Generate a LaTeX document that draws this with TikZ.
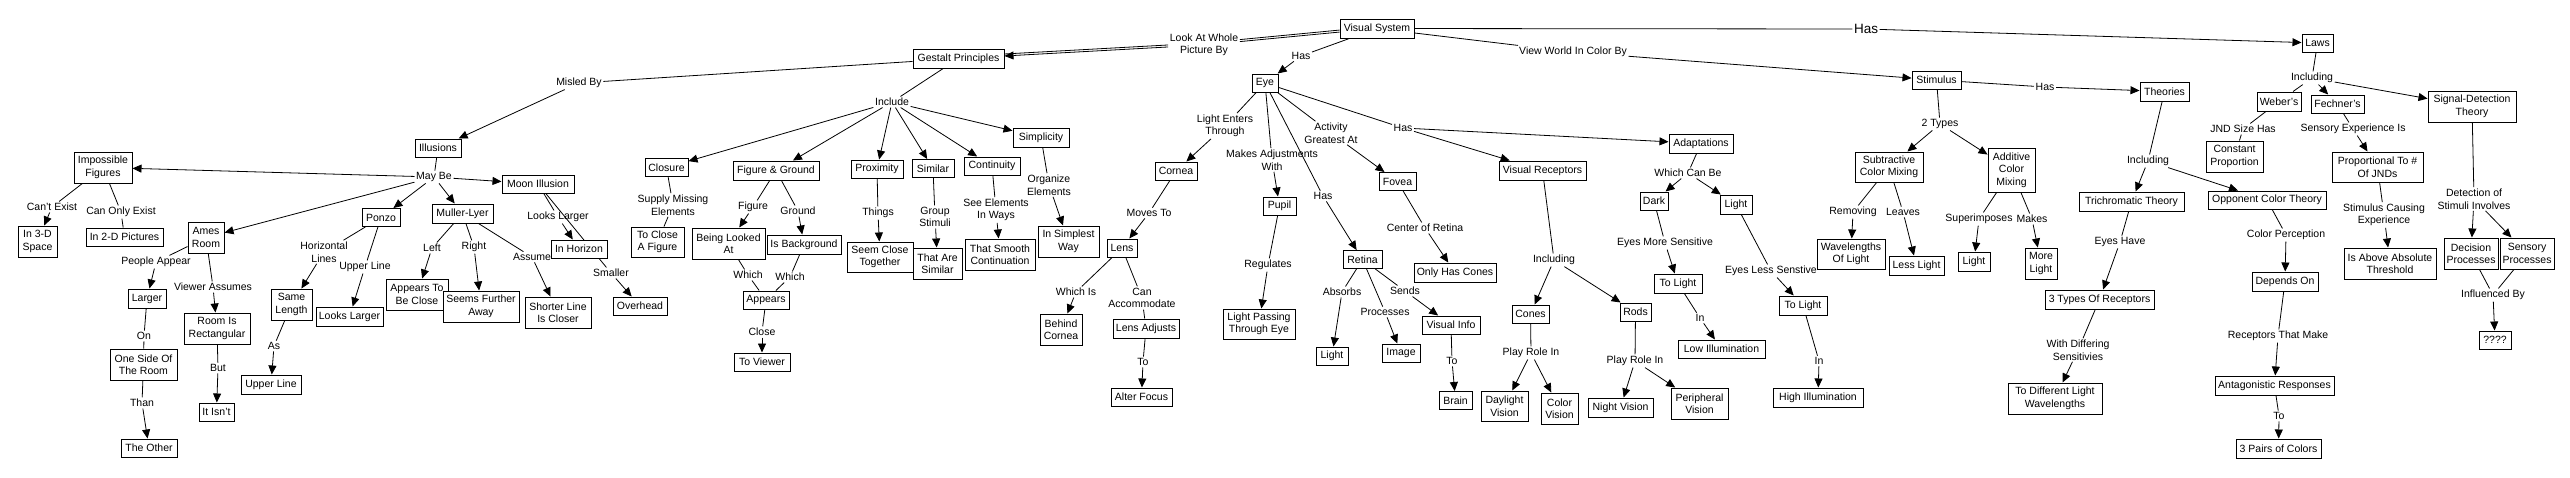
\documentclass[tikz,border=0pt]{standalone}
\usepackage{fontspec}
\setmainfont{Liberation Sans}
\usetikzlibrary{arrows.meta,backgrounds}
\newcommand\fnt{\fontsize{10.5}{12.5}\selectfont}
\newcommand\mybox[6]{\node[bx,minimum width=#4pt,minimum height=#5pt] (#1) at (#2,#3) {#6};}
\newcommand\mylab[4]{\node[lb] (#1) at (#2,#3) {#4};}
\tikzset{
  bx/.style={draw, line width=1pt, fill=white, inner sep=0pt, align=center, font=\fnt},
  lb/.style={inner sep=1.5pt, align=center, font=\fnt},
  ln/.style={line width=0.8pt},
  ar/.style={-{Triangle[length=9pt,width=8pt]}}
}
\begin{document}
\begin{tikzpicture}[x=1pt,y=-1pt]
\useasboundingbox (0,0) rectangle (2570,477);
% ---------- boxes ----------
\mybox{VS}{1377}{28.5}{74}{19}{Visual System}
\mybox{GP}{958.5}{58.5}{91}{19}{Gestalt Principles}
\mybox{Illus}{438}{148}{46}{18}{Illusions}
\mybox{ImpFig}{103}{167.5}{58}{31}{Impossible\\Figures}
\mybox{ThreeD}{37.5}{241.5}{39}{31}{In 3-D\\Space}
\mybox{TwoD}{124.5}{237}{77}{18}{In 2-D Pictures}
\mybox{Ames}{206}{237.5}{36}{31}{Ames\\Room}
\mybox{Larger}{147}{298.5}{38}{19}{Larger}
\mybox{OneSide}{143.5}{364.5}{67}{31}{One Side Of\\The Room}
\mybox{Other}{149}{448}{56}{18}{The Other}
\mybox{RoomRect}{217}{328.5}{66}{31}{Room Is\\Rectangular}
\mybox{Isnt}{216.5}{412}{35}{18}{It Isn't}
\mybox{SameLen}{291.5}{304.5}{41}{31}{Same\\Length}
\mybox{UpperLine}{271}{384.5}{60}{19}{Upper Line}
\mybox{LooksLarger}{349.5}{316.5}{67}{19}{Looks Larger}
\mybox{Moon}{538}{184}{72}{18}{Moon Illusion}
\mybox{Ponzo}{381}{217.5}{38}{18}{Ponzo}
\mybox{Muller}{462.5}{213.5}{61}{19}{Muller-Lyer}
\mybox{AppClose}{417}{294.5}{62}{31}{Appears To\\Be Close}
\mybox{Further}{481}{306.5}{76}{31}{Seems Further\\Away}
\mybox{Shorter}{558}{312.5}{66}{31}{Shorter Line\\Is Closer}
\mybox{Horizon}{579}{249}{56}{18}{In Horizon}
\mybox{Overhead}{640}{306}{54}{18}{Overhead}
\mybox{Closure}{666.5}{167.5}{43}{18}{Closure}
\mybox{ToClose}{657.5}{242}{53}{30}{To Close\\A Figure}
\mybox{FG}{776}{170.5}{86}{19}{Figure \& Ground}
\mybox{BeingLooked}{728.5}{243.5}{73}{31}{Being Looked\\At}
\mybox{IsBg}{804}{244.5}{74}{19}{Is Background}
\mybox{Appears}{766}{300}{46}{18}{Appears}
\mybox{ToViewer}{762}{362}{56}{18}{To Viewer}
\mybox{Prox}{877}{169}{52}{18}{Proximity}
\mybox{SeemClose}{880}{257}{66}{30}{Seem Close\\Together}
\mybox{Similar}{933}{168.5}{42}{18}{Similar}
\mybox{ThatSim}{937.5}{263.5}{49}{31}{That Are\\Similar}
\mybox{Cont}{992}{166}{56}{18}{Continuity}
\mybox{Smooth}{1000}{254.5}{70}{31}{That Smooth\\Continuation}
\mybox{Simp}{1041}{137.5}{56}{19}{Simplicity}
\mybox{Simplest}{1068.5}{241.5}{61}{31}{In Simplest\\Way}
\mybox{Eye}{1265}{83}{26}{18}{Eye}
\mybox{Cornea}{1176}{171}{42}{18}{Cornea}
\mybox{Lens}{1122}{248}{30}{18}{Lens}
\mybox{Behind}{1061}{329.5}{42}{31}{Behind\\Cornea}
\mybox{LensAdj}{1146}{328.5}{66}{19}{Lens Adjusts}
\mybox{Alter}{1141.5}{397}{61}{18}{Alter Focus}
\mybox{Pupil}{1279.5}{206}{33}{18}{Pupil}
\mybox{LightPass}{1259}{324}{72}{30}{Light Passing\\Through Eye}
\mybox{Fovea}{1397.5}{181.5}{37}{18}{Fovea}
\mybox{OnlyCones}{1455}{272.5}{82}{19}{Only Has Cones}
\mybox{Retina}{1362.5}{259.5}{39}{18}{Retina}
\mybox{LightR}{1332}{356}{32}{18}{Light}
\mybox{Image}{1401}{353}{38}{18}{Image}
\mybox{VisInfo}{1451}{325}{58}{18}{Visual Info}
\mybox{Brain}{1455.5}{400.5}{33}{18}{Brain}
\mybox{VisRec}{1542.5}{170.5}{87}{19}{Visual Receptors}
\mybox{Cones}{1530.5}{314}{37}{18}{Cones}
\mybox{Daylight}{1504.5}{406}{47}{30}{Daylight\\Vision}
\mybox{ColorV}{1559.5}{408.5}{37}{31}{Color\\Vision}
\mybox{Rods}{1635.5}{312}{31}{18}{Rods}
\mybox{Night}{1620.5}{407.5}{65}{19}{Night Vision}
\mybox{Peripheral}{1699.5}{403.5}{57}{31}{Peripheral\\Vision}
\mybox{Adapt}{1701}{143.5}{64}{19}{Adaptations}
\mybox{Dark}{1654}{201}{28}{18}{Dark}
\mybox{LightAd}{1736}{204.5}{32}{19}{Light}
\mybox{ToLightA}{1678}{283.5}{48}{19}{To Light}
\mybox{Low}{1721.5}{349}{87}{18}{Low Illumination}
\mybox{ToLightB}{1803}{305.5}{48}{19}{To Light}
\mybox{High}{1818}{397.5}{90}{19}{High Illumination}
\mybox{Stim}{1936.5}{80}{49}{18}{Stimulus}
\mybox{Subtr}{1889}{167}{68}{30}{Subtractive\\Color Mixing}
\mybox{Wavel}{1851}{254}{68}{30}{Wavelengths\\Of Light}
\mybox{LessLight}{1916.5}{265.5}{55}{19}{Less Light}
\mybox{Additive}{2011.5}{170}{47}{44}{Additive\\Color\\Mixing}
\mybox{LightA}{1974}{261.5}{32}{19}{Light}
\mybox{MoreLight}{2041}{263.5}{32}{31}{More\\Light}
\mybox{Theories}{2164.5}{91.5}{49}{19}{Theories}
\mybox{Trich}{2131.5}{201.5}{105}{19}{Trichromatic Theory}
\mybox{ThreeTypes}{2099.5}{299.5}{109}{19}{3 Types Of Receptors}
\mybox{ToDiff}{2055}{398.5}{94}{31}{To Different Light\\Wavelengths}
\mybox{Laws}{2317.5}{43}{31}{18}{Laws}
\mybox{Webers}{2279}{101.5}{44}{19}{Weber's}
\mybox{Fechners}{2337.5}{104}{53}{18}{Fechner's}
\mybox{Constant}{2234.5}{156.5}{57}{31}{Constant\\Proportion}
\mybox{Opponent}{2267}{200}{118}{18}{Opponent Color Theory}
\mybox{Depends}{2285}{281.5}{66}{19}{Depends On}
\mybox{Antag}{2274.5}{385.5}{119}{19}{Antagonistic Responses}
\mybox{ThreePairs}{2278.5}{448.5}{85}{19}{3 Pairs of Colors}
\mybox{Prop}{2377.5}{167}{91}{30}{Proportional To \#\\Of JNDs}
\mybox{Above}{2390}{263.5}{92}{31}{Is Above Absolute\\Threshold}
\mybox{SDT}{2472}{106.5}{88}{31}{Signal-Detection\\Theory}
\mybox{Decision}{2471}{253.5}{54}{31}{Decision\\Processes}
\mybox{Sensory}{2527}{253.5}{54}{31}{Sensory\\Processes}
\mybox{Q}{2495}{340}{32}{18}{????}
% ---------- labels ----------
\mylab{lookat}{1204}{45}{Look At Whole\\Picture By}
\mylab{vshas}{1301}{56}{Has}
\mylab{viewworld}{1573}{52}{View World In Color By}
\node[lb,font=\fontsize{13.5}{15}\selectfont] (vshasb) at (1866,29) {Has};
\mylab{misled}{579}{83}{Misled By}
\mylab{include}{892}{102}{Include}
\mylab{maybe}{434}{177}{May Be}
\mylab{cantexist}{52}{207}{Can't Exist}
\mylab{canonly}{121}{212}{Can Only Exist}
\mylab{people}{156}{262}{People Appear}
\mylab{on}{144}{336}{On}
\mylab{than}{142}{403}{Than}
\mylab{viewer}{213}{287}{Viewer Assumes}
\mylab{but}{218}{368}{But}
\mylab{horiz}{324}{252}{Horizontal\\Lines}
\mylab{as}{274}{346}{As}
\mylab{upperlbl}{365}{267}{Upper Line}
\mylab{left}{432}{248}{Left}
\mylab{right}{474}{247}{Right}
\mylab{assume}{532}{257}{Assume}
\mylab{looksl}{558}{217}{Looks Larger}
\mylab{smaller}{611}{273}{Smaller}
\mylab{supply}{673}{205}{Supply Missing\\Elements}
\mylab{figure}{753}{207}{Figure}
\mylab{ground}{798}{211}{Ground}
\mylab{whichA}{748}{275}{Which}
\mylab{whichB}{790}{277}{Which}
\mylab{close}{762}{332}{Close}
\mylab{things}{878}{213}{Things}
\mylab{group}{935}{217}{Group\\Stimuli}
\mylab{seeel}{996}{210}{See Elements\\In Ways}
\mylab{organize}{1049}{185}{Organize\\Elements}
\mylab{lightenters}{1225}{126}{Light Enters\\Through}
\mylab{movesto}{1149}{213}{Moves To}
\mylab{whichis}{1076}{292}{Which Is}
\mylab{canacc}{1142}{298}{Can\\Accommodate}
\mylab{toA}{1143}{362}{To}
\mylab{makesadj}{1272}{160}{Makes Adjustments\\With}
\mylab{regulates}{1268}{265}{Regulates}
\mylab{activity}{1331}{133}{Activity\\Greatest At}
\mylab{eyehas}{1403}{128}{Has}
\mylab{retinahas}{1323}{196}{Has}
\mylab{center}{1425}{228}{Center of Retina}
\mylab{absorbs}{1342}{292}{Absorbs}
\mylab{processes}{1385}{312}{Processes}
\mylab{sends}{1405}{291}{Sends}
\mylab{toB}{1452}{361}{To}
\mylab{includingA}{1554}{260}{Including}
\mylab{playroleA}{1531}{353}{Play Role In}
\mylab{playroleB}{1635}{361}{Play Role In}
\mylab{whichcan}{1688}{173}{Which Can Be}
\mylab{eyesmore}{1665}{243}{Eyes More Sensitive}
\mylab{inA}{1700}{318}{In}
\mylab{eyesless}{1771}{271}{Eyes Less Senstive}
\mylab{inB}{1819}{361}{In}
\mylab{twotypes}{1940}{124}{2 Types}
\mylab{removing}{1853}{212}{Removing}
\mylab{leaves}{1903}{212}{Leaves}
\mylab{stimhas}{2045}{87}{Has}
\mylab{superimp}{1979}{219}{Superimposes}
\mylab{makes}{2032}{219}{Makes}
\mylab{includingB}{2148}{161}{Including}
\mylab{eyeshave}{2120}{242}{Eyes Have}
\mylab{differing}{2078}{350}{With Differing\\Sensitivies}
\mylab{includingC}{2312}{78}{Including}
\mylab{jnd}{2243}{129}{JND Size Has}
\mylab{sensexp}{2353}{129}{Sensory Experience Is}
\mylab{stimcaus}{2384}{215}{Stimulus Causing\\Experience}
\mylab{colorperc}{2286}{235}{Color Perception}
\mylab{receptors}{2278}{336}{Receptors That Make}
\mylab{toC}{2279}{416}{To}
\mylab{detection}{2474}{199}{Detection of\\Stimuli Involves}
\mylab{influenced}{2493}{295}{Influenced By}
% ---------- connectors ----------
\begin{scope}[on background layer]
\fill[white] (0,0) rectangle (2570,477);
\draw[ln] (VS) -- (lookat);
\draw[ln,transform canvas={yshift=2pt}] (VS) -- (lookat);
\draw[ln,ar] (lookat) -- (GP);
\draw[ln,transform canvas={yshift=2pt}] (lookat) -- (GP);
\draw[ln] (VS) -- (vshas); \draw[ln,ar] (vshas) -- (Eye);
\draw[ln] (VS) -- (viewworld); \draw[ln,ar] (viewworld) -- (Stim);
\draw[ln] (VS) -- (vshasb); \draw[ln,ar] (vshasb) -- (Laws);
\draw[ln] (GP) -- (misled); \draw[ln,ar] (misled) -- (Illus);
\draw[ln] (GP) -- (include);
\foreach \t in {Closure,FG,Prox,Similar,Cont,Simp} \draw[ln,ar] (include) -- (\t);
\draw[ln] (Illus) -- (maybe);
\foreach \t in {ImpFig,Ames,Ponzo,Muller,Moon} \draw[ln,ar] (maybe) -- (\t);
\draw[ln] (ImpFig) -- (cantexist); \draw[ln,ar] (cantexist) -- (ThreeD);
\draw[ln] (ImpFig) -- (canonly); \draw[ln] (canonly) -- (TwoD);
\draw[ln] (Ames) -- (people); \draw[ln,ar] (people) -- (Larger);
\draw[ln] (Larger) -- (on); \draw[ln] (on) -- (OneSide);
\draw[ln] (OneSide) -- (than); \draw[ln,ar] (than) -- (Other);
\draw[ln] (Ames) -- (viewer); \draw[ln,ar] (viewer) -- (RoomRect);
\draw[ln] (RoomRect) -- (but); \draw[ln,ar] (but) -- (Isnt);
\draw[ln] (Ponzo) -- (horiz); \draw[ln,ar] (horiz) -- (SameLen);
\draw[ln] (SameLen) -- (as); \draw[ln,ar] (as) -- (UpperLine);
\draw[ln] (Ponzo) -- (upperlbl); \draw[ln,ar] (upperlbl) -- (LooksLarger);
\draw[ln] (Muller) -- (left); \draw[ln,ar] (left) -- (AppClose);
\draw[ln] (Muller) -- (right); \draw[ln,ar] (right) -- (Further);
\draw[ln] (Muller) -- (assume); \draw[ln,ar] (assume) -- (Shorter);
\draw[ln] (Moon) -- (looksl); \draw[ln,ar] (looksl) -- (Horizon);
\draw[ln] (Moon) -- (smaller); \draw[ln,ar] (smaller) -- (Overhead);
\draw[ln] (Closure) -- (supply); \draw[ln] (supply) -- (ToClose);
\draw[ln] (FG) -- (figure); \draw[ln,ar] (figure) -- (BeingLooked);
\draw[ln] (FG) -- (ground); \draw[ln,ar] (ground) -- (IsBg);
\draw[ln] (BeingLooked) -- (whichA); \draw[ln] (whichA) -- (Appears);
\draw[ln] (IsBg) -- (whichB); \draw[ln] (whichB) -- (Appears);
\draw[ln] (Appears) -- (close); \draw[ln,ar] (close) -- (ToViewer);
\draw[ln] (Prox) -- (things); \draw[ln,ar] (things) -- (SeemClose);
\draw[ln] (Similar) -- (group); \draw[ln,ar] (group) -- (ThatSim);
\draw[ln] (Cont) -- (seeel); \draw[ln,ar] (seeel) -- (Smooth);
\draw[ln] (Simp) -- (organize); \draw[ln,ar] (organize) -- (Simplest);
\draw[ln] (Eye) -- (lightenters); \draw[ln,ar] (lightenters) -- (Cornea);
\draw[ln] (Cornea) -- (movesto); \draw[ln,ar] (movesto) -- (Lens);
\draw[ln] (Lens) -- (whichis); \draw[ln,ar] (whichis) -- (Behind);
\draw[ln] (Lens) -- (canacc); \draw[ln] (canacc) -- (LensAdj);
\draw[ln] (LensAdj) -- (toA); \draw[ln,ar] (toA) -- (Alter);
\draw[ln] (Eye) -- (makesadj); \draw[ln,ar] (makesadj) -- (Pupil);
\draw[ln] (Pupil) -- (regulates); \draw[ln,ar] (regulates) -- (LightPass);
\draw[ln] (Eye) -- (activity); \draw[ln,ar] (activity) -- (Fovea);
\draw[ln] (Fovea) -- (center); \draw[ln,ar] (center) -- (OnlyCones);
\draw[ln] (Eye) -- (retinahas); \draw[ln,ar] (retinahas) -- (Retina);
\draw[ln] (Eye) -- (eyehas); \draw[ln,ar] (eyehas) -- (VisRec); \draw[ln,ar] (eyehas) -- (Adapt);
\draw[ln] (Retina) -- (absorbs); \draw[ln,ar] (absorbs) -- (LightR);
\draw[ln] (Retina) -- (processes); \draw[ln,ar] (processes) -- (Image);
\draw[ln] (Retina) -- (sends); \draw[ln,ar] (sends) -- (VisInfo);
\draw[ln] (VisInfo) -- (toB); \draw[ln,ar] (toB) -- (Brain);
\draw[ln] (VisRec) -- (includingA); \draw[ln,ar] (includingA) -- (Cones); \draw[ln,ar] (includingA) -- (Rods);
\draw[ln] (Cones) -- (playroleA); \draw[ln,ar] (playroleA) -- (Daylight); \draw[ln,ar] (playroleA) -- (ColorV);
\draw[ln] (Rods) -- (playroleB); \draw[ln,ar] (playroleB) -- (Night); \draw[ln,ar] (playroleB) -- (Peripheral);
\draw[ln] (Adapt) -- (whichcan); \draw[ln,ar] (whichcan) -- (Dark); \draw[ln,ar] (whichcan) -- (LightAd);
\draw[ln] (Dark) -- (eyesmore); \draw[ln,ar] (eyesmore) -- (ToLightA);
\draw[ln] (ToLightA) -- (inA); \draw[ln,ar] (inA) -- (Low);
\draw[ln] (LightAd) -- (eyesless); \draw[ln,ar] (eyesless) -- (ToLightB);
\draw[ln] (ToLightB) -- (inB); \draw[ln,ar] (inB) -- (High);
\draw[ln] (Stim) -- (twotypes); \draw[ln,ar] (twotypes) -- (Subtr); \draw[ln,ar] (twotypes) -- (Additive);
\draw[ln] (Subtr) -- (removing); \draw[ln,ar] (removing) -- (Wavel);
\draw[ln] (Subtr) -- (leaves); \draw[ln,ar] (leaves) -- (LessLight);
\draw[ln] (Additive) -- (superimp); \draw[ln,ar] (superimp) -- (LightA);
\draw[ln] (Additive) -- (makes); \draw[ln,ar] (makes) -- (MoreLight);
\draw[ln] (Stim) -- (stimhas); \draw[ln,ar] (stimhas) -- (Theories);
\draw[ln] (Theories) -- (includingB); \draw[ln,ar] (includingB) -- (Trich); \draw[ln,ar] (includingB) -- (Opponent);
\draw[ln] (Trich) -- (eyeshave); \draw[ln,ar] (eyeshave) -- (ThreeTypes);
\draw[ln] (ThreeTypes) -- (differing); \draw[ln,ar] (differing) -- (ToDiff);
\draw[ln] (Opponent) -- (colorperc); \draw[ln,ar] (colorperc) -- (Depends);
\draw[ln] (Depends) -- (receptors); \draw[ln,ar] (receptors) -- (Antag);
\draw[ln] (Antag) -- (toC); \draw[ln,ar] (toC) -- (ThreePairs);
\draw[ln] (Laws) -- (includingC); \draw[ln] (includingC) -- (Webers);
\draw[ln,ar] (includingC) -- (Fechners); \draw[ln,ar] (includingC) -- (SDT);
\draw[ln] (Webers) -- (jnd); \draw[ln] (jnd) -- (Constant);
\draw[ln] (Fechners) -- (sensexp); \draw[ln,ar] (sensexp) -- (Prop);
\draw[ln] (Prop) -- (stimcaus); \draw[ln,ar] (stimcaus) -- (Above);
\draw[ln] (SDT) -- (detection); \draw[ln,ar] (detection) -- (Decision); \draw[ln,ar] (detection) -- (Sensory);
\draw[ln] (Decision) -- (influenced); \draw[ln] (Sensory) -- (influenced);
\draw[ln,ar] (influenced) -- (Q);
\end{scope}
\end{tikzpicture}
\end{document}
